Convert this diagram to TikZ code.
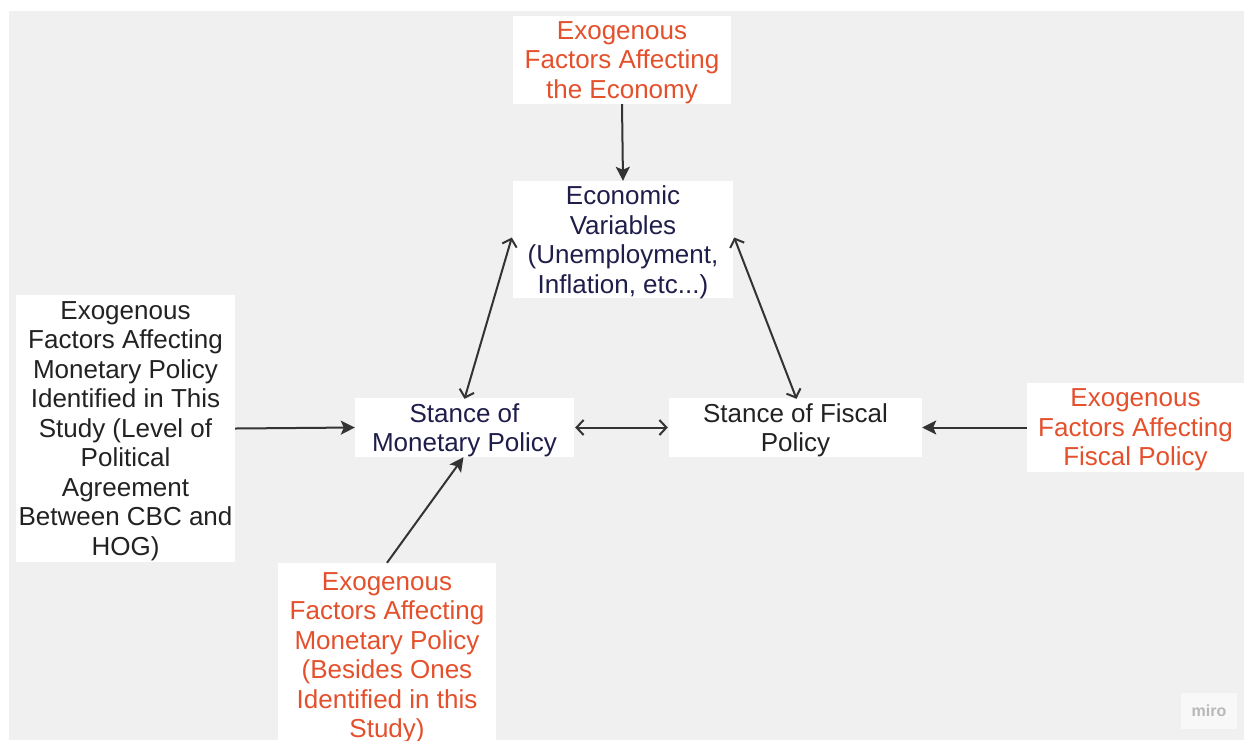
\documentclass[tikz,border=0pt]{standalone}
\usepackage{fontspec}
\setmainfont{Liberation Sans}
\usetikzlibrary{arrows.meta}
\definecolor{canvas}{HTML}{F0F0F0}
\definecolor{exo}{HTML}{E4502C}
\definecolor{navy}{HTML}{1F1D4A}
\definecolor{ink}{HTML}{222222}
\definecolor{wire}{HTML}{333333}
\begin{document}
\begin{tikzpicture}[x=1pt,y=-1pt,
  card/.style={fill=white, inner sep=0pt, align=center,
    font=\fontsize{26}{29.5}\selectfont, text depth=-2pt},
  oneway/.style={draw=wire, line width=2pt,
    -{Stealth[length=14pt,width=14pt,inset=3pt]}},
  twoway/.style={draw=wire, line width=2pt,
    {Straight Barb[length=7pt,width=15pt]}-{Straight Barb[length=7pt,width=15pt]}}]
\useasboundingbox (0,0) rectangle (1244,740);
\fill[white] (0,0) rectangle (1244,740);
\fill[canvas] (9,11) rectangle (1244,740);
\begin{scope}
\clip (0,0) rectangle (1244,740);
% factor boxes
\node[card, text=exo, minimum width=218pt, minimum height=88pt] (econexo) at (622,60)
  {Exogenous\\Factors Affecting\\the Economy};
\node[card, text=navy, minimum width=220pt, minimum height=117pt] (econ) at (623,239.5)
  {Economic\\Variables\\(Unemployment,\\Inflation, etc...)};
\node[card, text=ink, minimum width=219pt, minimum height=267pt] (study) at (125.5,428.5)
  {Exogenous\\Factors Affecting\\Monetary Policy\\Identified in This\\Study (Level of\\Political\\Agreement\\Between CBC and\\HOG)};
\node[card, text=navy, minimum width=219pt, minimum height=59pt] (mon) at (464.5,427.5)
  {Stance of\\Monetary Policy};
\node[card, text=ink, minimum width=253pt, minimum height=59pt] (fis) at (795.5,427.5)
  {Stance of Fiscal\\Policy};
\node[card, text=exo, minimum width=217pt, minimum height=89pt] (fisexo) at (1135.5,427.5)
  {Exogenous\\Factors Affecting\\Fiscal Policy};
\node[card, text=exo, minimum width=218pt, minimum height=184pt] (monexo) at (387,655)
  {Exogenous\\Factors Affecting\\Monetary Policy\\(Besides Ones\\Identified in this\\Study)};
\end{scope}
% connectors
\draw[oneway] (econexo.south) -- (econ.north);
\draw[twoway] ([xshift=-1pt,yshift=2pt]econ.west) -- ([yshift=-1pt]mon.north);
\draw[twoway] ([xshift=1pt,yshift=2pt]econ.east) -- ([xshift=1pt,yshift=-1pt]fis.north);
\draw[twoway] ([xshift=1pt]mon.east) -- ([xshift=-1pt]fis.west);
\draw[oneway] (study.east) -- (mon.west);
\draw[oneway] (monexo.north) -- ([xshift=-1pt]mon.south);
\draw[oneway] (fisexo.west) -- (fis.east);
% watermark
\node[fill=white!50!canvas, inner sep=0pt, minimum width=56pt, minimum height=36pt,
  text=black!28, font=\fontsize{16}{16}\selectfont\bfseries] (mark) at (1209,711) {miro};
\end{tikzpicture}
\end{document}
